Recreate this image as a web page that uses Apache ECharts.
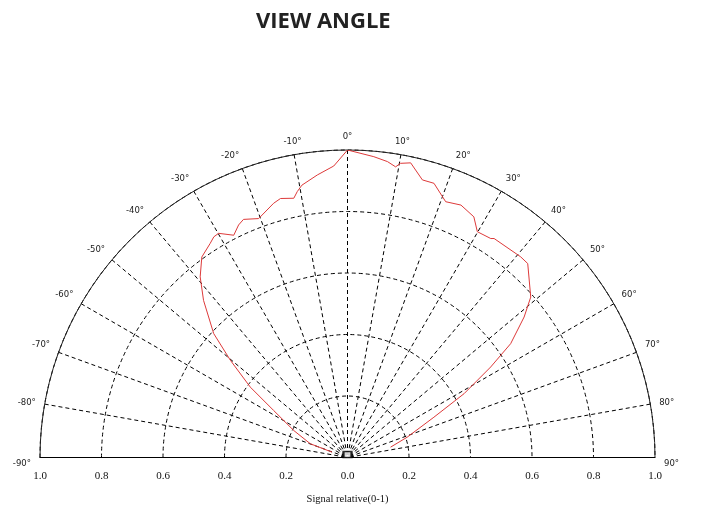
<!DOCTYPE html>
<html>
<head>
<meta charset="utf-8">
<script src="https://cdn.jsdelivr.net/npm/echarts@6/dist/echarts.min.js"></script>
<style>html,body{margin:0;padding:0;background:#fff}#c{width:705px;height:506px}</style>
</head>
<body>
<div id="c"></div>
<script>
// angle in degrees (0 = straight up, negative = left), relative signal (0-1)
const angles = [-70.9, -69.7, -63.3, -57.5, -54.1, -50.3, -47.2, -42.5, -39.2, -36.0, -32.7, -31.2, -29.9, -27.1, -25.1, -23.6, -20.4, -16.2, -14.5, -11.7, -10.7, -9.5, -6.1, -2.7, 0.0,
                5.0, 7.7, 9.4, 10.2, 12.1, 15.1, 17.5, 21.0, 24.2, 27.7, 29.9, 33.2, 33.8, 40.8, 42.9, 48.8, 51.5, 55.1, 57.7, 61.3, 65.0, 71.2, 76.5];
const signal = [0.053, 0.129, 0.196, 0.285, 0.390, 0.495, 0.593, 0.693, 0.758, 0.806, 0.827, 0.839, 0.841, 0.812, 0.835, 0.845, 0.829, 0.861, 0.870, 0.861, 0.880, 0.898, 0.924, 0.949, 1.000,
                0.982, 0.971, 0.958, 0.972, 0.980, 0.935, 0.935, 0.891, 0.900, 0.884, 0.847, 0.851, 0.857, 0.862, 0.861, 0.792, 0.734, 0.647, 0.551, 0.432, 0.310, 0.205, 0.144];
const angleMin = -90, angleMax = 90, angleStep = 10;
const radiusStep = 0.2;
const title = 'VIEW ANGLE';
const xName = 'Signal relative(0-1)';

const chart = echarts.init(document.getElementById('c'), null, {renderer: 'canvas'});
const dash = [4, 3];
chart.setOption({
  animation: false,
  backgroundColor: '#fff',
  title: {
    text: title, left: 251, top: 6,
    textStyle: {fontFamily: 'Open Sans', fontWeight: 'bold', fontSize: 22, color: '#222'}
  },
  polar: {center: [347.5, 457.5], radius: 307.5},
  angleAxis: {
    type: 'value', min: angleMin, max: angleMax, interval: angleStep,
    startAngle: 180, endAngle: 0, clockwise: true,
    axisLine: {show: true, lineStyle: {color: '#222', width: 1}},
    axisTick: {show: false},
    splitLine: {show: true, lineStyle: {type: dash, color: '#000', width: 1}},
    axisLabel: {
      margin: 9, fontFamily: 'DejaVu Sans', fontSize: 8.5, color: '#222',
      formatter: v => (Math.abs(v) === 90 ? '{low|' + v + '°}' : v + '°'),
      rich: {low: {padding: [12, 0, 0, 0], fontFamily: 'DejaVu Sans', fontSize: 8.5, color: '#222'}}
    }
  },
  radiusAxis: {
    type: 'value', min: 0, max: 1, interval: radiusStep,
    axisLine: {show: false}, axisTick: {show: false}, axisLabel: {show: false},
    splitLine: {show: true, lineStyle: {type: dash, color: '#000', width: 1}}
  },
  grid: {left: 40, right: 50, top: 100, bottom: 49, containLabel: false, outerBoundsMode: 'none'},
  xAxis: {
    type: 'value', min: -1, max: 1, interval: radiusStep, z: 4,
    axisLine: {show: true, lineStyle: {color: '#000', width: 1}},
    axisTick: {show: false}, splitLine: {show: false},
    axisLabel: {margin: 14, fontFamily: 'Liberation Serif', fontSize: 11, color: '#111',
      formatter: v => Math.abs(v).toFixed(1)},
    name: xName, nameLocation: 'middle', nameGap: 37,
    nameTextStyle: {fontFamily: 'Liberation Serif', fontSize: 10.5, color: '#111'}
  },
  yAxis: {type: 'value', min: 0, max: 1, show: false},
  series: [
    {
      type: 'line', coordinateSystem: 'polar', smooth: false, showSymbol: false, symbol: 'none',
      lineStyle: {color: '#dd3a3a', width: 1},
      data: angles.map((a, i) => [signal[i], a]),
      z: 5
    },
    {
      type: 'scatter', coordinateSystem: 'polar', symbol: 'rect', symbolSize: [8, 6],
      symbolOffset: [0, -3],
      itemStyle: {color: '#fff', borderColor: '#000', borderWidth: 2},
      data: [[0, 0]], z: 6
    }
  ]
});
</script>
</body>
</html>
